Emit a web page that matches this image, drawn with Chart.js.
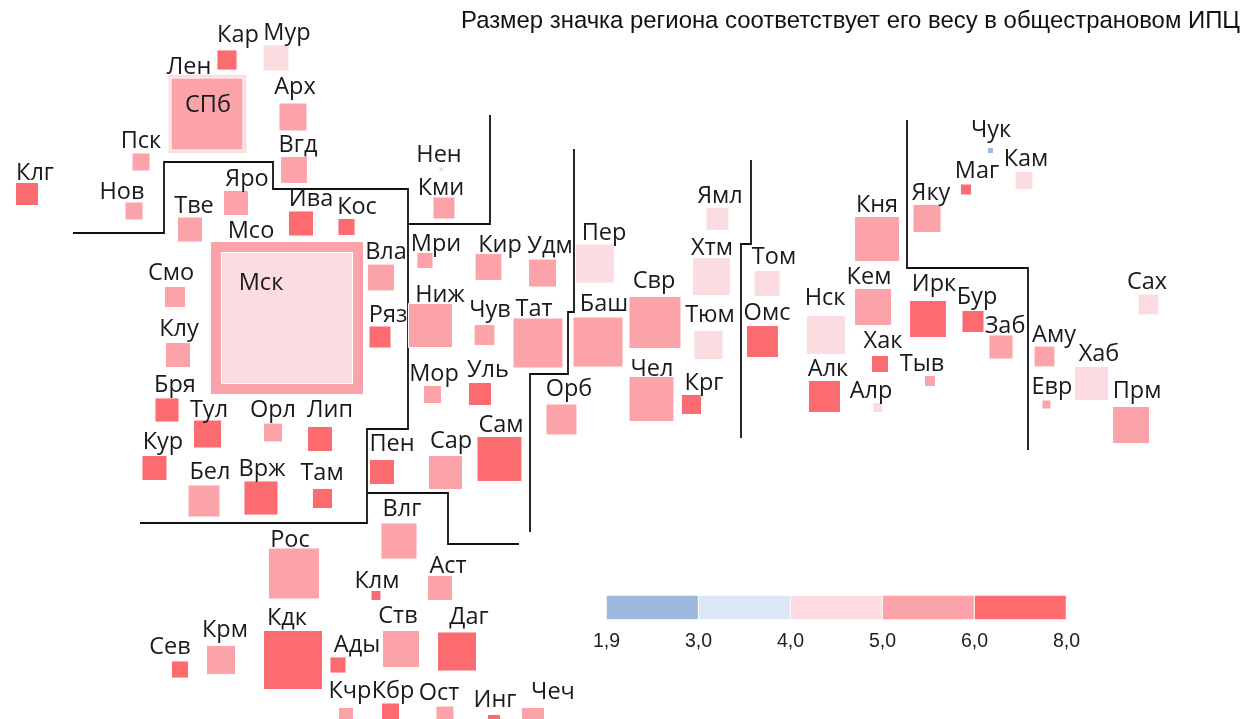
<!DOCTYPE html>
<html lang="ru">
<head>
<meta charset="utf-8">
<title>ИПЦ по регионам</title>
<script src="https://cdn.jsdelivr.net/npm/chart.js@4"></script>
<style>
  body { margin: 0; background: #fff; overflow: hidden; }
  #map { position: absolute; left: 0; top: 0; }
  #scale { position: absolute; left: 583px; top: 585px; }
  #title { position: absolute; right: 10px; top: 6px; font: 23.9px "Liberation Sans", Arial, sans-serif; color: #111; white-space: nowrap; }
</style>
</head>
<body>
<canvas id="map" width="1250" height="719"></canvas>
<canvas id="scale" width="507" height="70"></canvas>
<div id="title">Размер значка региона соответствует его весу в общестрановом ИПЦ</div>
<script>
// tile map of the regions, big frames come before the square that sits on top of them
const regions = ["Кар","Мур","Лен","СПб","Арх","Вгд","Пск","Клг","Нов","Яро","Тве","Ива","Кос","Мсо","Мск","Вла","Ряз","Смо","Клу","Бря","Тул","Орл","Лип","Кур","Бел","Врж","Там","Пен","Влг","Рос","Клм","Аст","Ств","Даг","Кдк","Ады","Сев","Крм","Кчр","Кбр","Ост","Инг","Чеч","Нен","Кми","Мри","Кир","Удм","Пер","Ниж","Чув","Тат","Баш","Свр","Мор","Уль","Орб","Чел","Крг","Сар","Сам","Ямл","Хтм","Тюм","Том","Омс","Кня","Кем","Нск","Ирк","Бур","Заб","Хак","Тыв","Алк","Алр","Яку","Маг","Чук","Кам","Сах","Аму","Хаб","Евр","Прм"];
const tileX = [227,276,207.5,207,293,294,141,27,134,236,190,301,346.5,287,287,381,380,175,178,167,207.5,273,320,154.5,204,261,322.5,382,399,294,376,440,401,457,293,338,180,221,346,390.5,445,494,533,441.5,444,425,488.5,542.5,595,430.5,484.5,538,598,655,432.5,480,561.5,651.5,691.5,445.5,499.5,717.5,711.5,708.5,767,762.5,877,873,826,928,973,1001,880,930,824.5,878,927,966,990.5,1024,1148.5,1044.5,1091.5,1046.5,1131];
const tileY = [60,58,114,114,117,170,162,194,211,203,229.5,223.5,227,318,318,277.5,337,297,355,410,434,432.5,439,468,501,498,498.5,472,541,573.5,595.5,588,649,651.5,660,665,669.5,660,715,712,715,721,719,169.5,208,260.5,267,273,263.5,325.5,335,343,342,322.5,394.5,394,419.5,399,404.5,472.5,459,219,276.5,345,283.5,341.5,239,307,335,319,321.5,347,364,381,396.5,407.5,218.5,189.5,150.5,180.5,304.5,356.5,383.5,404.5,425];
const weights = [0.24,0.41,4.0,3.31,0.48,0.44,0.19,0.32,0.19,0.38,0.38,0.38,0.17,15.19,11.11,0.44,0.29,0.26,0.38,0.35,0.48,0.21,0.38,0.38,0.63,0.72,0.24,0.38,0.81,1.64,0.053,0.38,0.85,0.95,2.21,0.15,0.17,0.52,0.13,0.19,0.19,0.095,0.32,0.01,0.29,0.15,0.44,0.48,0.95,1.22,0.26,1.58,1.58,1.71,0.19,0.32,0.59,1.27,0.24,0.72,1.27,0.32,0.9,0.52,0.41,0.63,1.27,0.85,0.95,0.85,0.29,0.35,0.17,0.066,0.63,0.053,0.48,0.066,0.016,0.19,0.26,0.26,0.72,0.042,0.85];
const bands = [4,2,2,3,3,3,3,4,3,3,3,4,4,3,2,3,4,3,3,4,4,3,4,4,3,4,4,4,3,3,4,3,3,4,4,4,4,3,3,4,3,4,3,1,3,3,3,3,2,3,3,3,3,3,3,4,3,3,4,3,4,2,2,2,2,4,3,3,2,4,4,3,4,3,4,2,3,4,0,2,2,3,2,3,3];
const labelX = [238,287,189,208,295,298,141,35,122,247,194,311,357,251,261,386,388,171,179,175,209,273,330,163,210,262,322,392,402,290,377,448,398,469,287,357,170,225,350,393,439,495,553,439,441,436,500,550,604,440,490,534,604,654,434,488,569,652,704,451,501,720,712,710,774,767,877,869,825,934,977,1005,883,922,828,871,931,977,991,1026,1147,1054,1099,1052,1137];
const labelY = [35,33,67,105,87,145,141,173,192,179,206,199,207,231,283,252,315,273,329,385,410,410,410,442,472,469,473,444,509,540,581,566,616,617,618,645,647,630,691,691,693,700,692,155,188,244,245,246,233,295,310,309,304,281,374,370,389,369,383,441,425,196,248,315,257,313,205,277,298,284,297,326,341,364,369,391,193,171,130,159,282,335,354,387,391];

// borders between the federal districts, null breaks the line
const borderX = [73,164,164,273,273,408,408,367,367,140,null,408,490,490,null,367,448,448,519,null,530,530,568,568,574,574,null,741,741,751,751,null,907,907,1028,1028];
const borderY = [233,233,162,162,189,189,429,429,523,523,null,224,224,115,null,493,493,544,544,null,532,374,374,312,312,149,null,438,244,244,160,null,120,268,268,450];

const bandColors = ["#9cb9dd","#dce6f4","#fbdce0","#fba3a8","#fb6b70"];
const thresholds = ["1,9","3,0","4,0","5,0","6,0","8,0"];

function sideOf(weight) {
    return 39 * Math.sqrt(weight);
}

const regionLabels = {
    id: "regionLabels",
    afterDatasetsDraw(chart) {
        const ctx = chart.ctx;
        ctx.save();
        ctx.font = '23.5px "Open Sans", sans-serif';
        ctx.fillStyle = "#1a1a1a";
        ctx.textAlign = "center";
        ctx.textBaseline = "middle";
        regions.forEach((name, i) => {
            ctx.fillText(name, chart.scales.x.getPixelForValue(labelX[i]), chart.scales.y.getPixelForValue(labelY[i]));
        });
        ctx.restore();
    }
};

new Chart(document.getElementById("map"), {
    type: "scatter",
    plugins: [regionLabels],
    data: {
        datasets: [
            {
                data: borderX.map((x, i) => ({ x: x, y: borderY[i] })),
                showLine: true,
                spanGaps: false,
                borderColor: "#111",
                borderWidth: 1.8,
                pointRadius: 0,
                order: 2,
            },
            {
                data: regions.map((name, i) => ({ x: tileX[i], y: tileY[i] })),
                pointStyle: "rect",
                pointRadius: weights.map((w) => (sideOf(w) + 1) / Math.SQRT2),
                backgroundColor: bands.map((b) => bandColors[b]),
                borderColor: "#fff",
                borderWidth: 1,
                order: 1,
            },
        ],
    },
    options: {
        responsive: false,
        animation: false,
        layout: { padding: 0, autoPadding: false },
        plugins: { legend: { display: false }, tooltip: false, title: { display: false } },
        scales: {
            x: { type: "linear", min: 0, max: 1250, display: false },
            y: { type: "linear", min: 0, max: 719, reverse: true, display: false },
        },
    },
});

new Chart(document.getElementById("scale"), {
    type: "bar",
    data: {
        labels: [""],
        datasets: bandColors.map((color) => ({
            data: [1],
            backgroundColor: color,
            borderColor: "#fff",
            borderWidth: 1,
            categoryPercentage: 1,
            barPercentage: 1,
        })),
    },
    options: {
        indexAxis: "y",
        responsive: false,
        animation: false,
        layout: { padding: { left: 23, right: 23, top: 10 }, autoPadding: false },
        plugins: { legend: { display: false }, tooltip: false },
        scales: {
            x: {
                type: "linear",
                stacked: true,
                min: 0,
                max: thresholds.length - 1,
                grid: { display: false, drawTicks: false },
                border: { display: false },
                afterFit: (scale) => { scale.height = 35; },
                ticks: {
                    stepSize: 1,
                    maxRotation: 0,
                    padding: 10,
                    color: "#222",
                    font: { family: '"Liberation Sans", Arial, sans-serif', size: 19.5 },
                    callback: (value) => thresholds[value],
                },
            },
            y: { stacked: true, display: false },
        },
    },
});
</script>
</body>
</html>
